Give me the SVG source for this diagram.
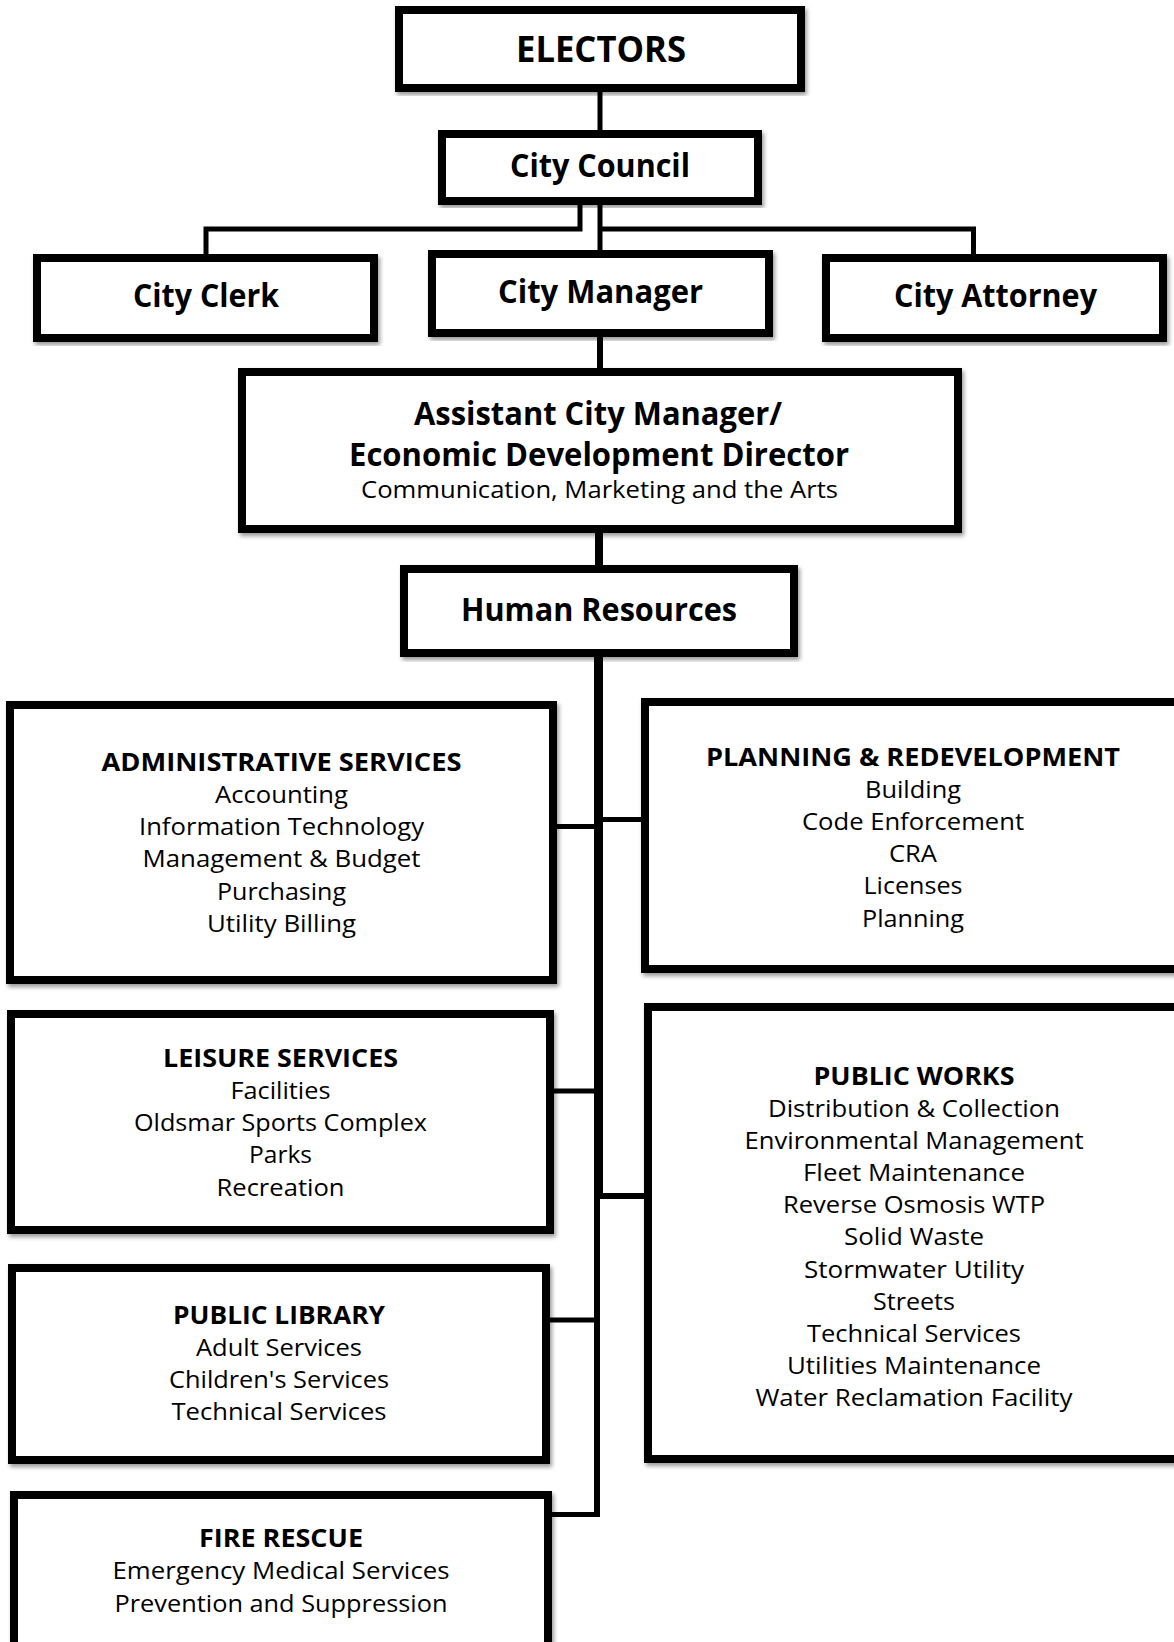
<svg xmlns="http://www.w3.org/2000/svg" width="1174" height="1642" viewBox="0 0 1174 1642">
<defs>
<filter id="sh" x="-5%" y="-5%" width="115%" height="115%">
<feDropShadow dx="2" dy="3" stdDeviation="2" flood-color="#000" flood-opacity="0.4"/>
</filter>
<style>
.box{fill:#fff;stroke:#000;stroke-width:8;filter:url(#sh)}
.ln{fill:none;stroke:#000;stroke-width:5}
text{font-family:"Open Sans","Liberation Sans",sans-serif;fill:#000;text-anchor:middle}
.t1{font-size:36px;font-weight:700}
.t2{font-size:31.5px;font-weight:700}
.t3{font-size:23px}
.h{font-size:25px;font-weight:700}
.b{font-size:24.5px}
</style>
</defs>
<rect width="1174" height="1642" fill="#fff"/>
<g id="connectors">
<line class="ln" x1="600" y1="90" x2="600" y2="134"/>
<line class="ln" x1="600" y1="201" x2="600" y2="254"/>
<path class="ln" d="M580 201 V229 H206 V258"/>
<path class="ln" d="M600 229 H973.5 V258"/>
<line class="ln" x1="600" y1="333" x2="600" y2="372" style="stroke-width:6"/>
<line class="ln" x1="599" y1="529" x2="599" y2="569" style="stroke-width:8"/>
<line class="ln" x1="598.5" y1="653" x2="598.5" y2="1199" style="stroke-width:9"/>
<line class="ln" x1="597" y1="1196" x2="597" y2="1517" style="stroke-width:6"/>
<line class="ln" x1="553" y1="826.5" x2="597" y2="826.5"/>
<line class="ln" x1="600" y1="819.5" x2="645" y2="819.5"/>
<line class="ln" x1="550" y1="1091" x2="597" y2="1091"/>
<line class="ln" x1="600" y1="1196" x2="648" y2="1196" style="stroke-width:6"/>
<line class="ln" x1="546" y1="1320" x2="597" y2="1320"/>
<path class="ln" d="M548 1514.5 H597 V1510"/>
</g>
<g id="electors">
<rect class="box" x="399" y="10" width="402" height="78"/>
<text class="t1" x="601" y="62" textLength="170" lengthAdjust="spacingAndGlyphs">ELECTORS</text>
</g>
<g id="city-council">
<rect class="box" x="442" y="134" width="316" height="67"/>
<text class="t2" x="600" y="177" textLength="180" lengthAdjust="spacingAndGlyphs">City Council</text>
</g>
<g id="city-clerk">
<rect class="box" x="37" y="258" width="337" height="80"/>
<text class="t2" x="206" y="307" textLength="146" lengthAdjust="spacingAndGlyphs">City Clerk</text>
</g>
<g id="city-manager">
<rect class="box" x="432" y="254" width="337" height="79"/>
<text class="t2" x="600.5" y="303" textLength="205" lengthAdjust="spacingAndGlyphs">City Manager</text>
</g>
<g id="city-attorney">
<rect class="box" x="826" y="258" width="337" height="80"/>
<text class="t2" x="995.5" y="307" textLength="203" lengthAdjust="spacingAndGlyphs">City Attorney</text>
</g>
<g id="assistant-city-manager">
<rect class="box" x="242" y="372" width="716" height="157"/>
<text class="t2" x="598" y="425" textLength="368" lengthAdjust="spacingAndGlyphs">Assistant City Manager/</text>
<text class="t2" x="599" y="466" textLength="500" lengthAdjust="spacingAndGlyphs">Economic Development Director</text>
<text class="t3" x="599.5" y="498" textLength="477" lengthAdjust="spacingAndGlyphs">Communication, Marketing and the Arts</text>
</g>
<g id="human-resources">
<rect class="box" x="404" y="569" width="390" height="84"/>
<text class="t2" x="599" y="621" textLength="276" lengthAdjust="spacingAndGlyphs">Human Resources</text>
</g>
<g id="administrative-services">
<rect class="box" x="10" y="705" width="543" height="275"/>
<text class="h" x="281.5" y="771" textLength="360" lengthAdjust="spacingAndGlyphs">ADMINISTRATIVE SERVICES</text>
<text class="b" x="281.5" y="803" textLength="133" lengthAdjust="spacingAndGlyphs">Accounting</text>
<text class="b" x="281.5" y="835" textLength="285" lengthAdjust="spacingAndGlyphs">Information Technology</text>
<text class="b" x="281.5" y="867" textLength="278" lengthAdjust="spacingAndGlyphs">Management &amp; Budget</text>
<text class="b" x="281.5" y="900" textLength="129" lengthAdjust="spacingAndGlyphs">Purchasing</text>
<text class="b" x="281.5" y="932" textLength="149" lengthAdjust="spacingAndGlyphs">Utility Billing</text>
</g>
<g id="planning-redevelopment">
<rect class="box" x="645" y="702" width="536" height="267"/>
<text class="h" x="913" y="766" textLength="414" lengthAdjust="spacingAndGlyphs">PLANNING &amp; REDEVELOPMENT</text>
<text class="b" x="913" y="798" textLength="96" lengthAdjust="spacingAndGlyphs">Building</text>
<text class="b" x="913" y="830" textLength="222" lengthAdjust="spacingAndGlyphs">Code Enforcement</text>
<text class="b" x="913" y="862" textLength="48" lengthAdjust="spacingAndGlyphs">CRA</text>
<text class="b" x="913" y="894" textLength="99" lengthAdjust="spacingAndGlyphs">Licenses</text>
<text class="b" x="913" y="927" textLength="102" lengthAdjust="spacingAndGlyphs">Planning</text>
</g>
<g id="leisure-services">
<rect class="box" x="11" y="1014" width="539" height="216"/>
<text class="h" x="280.5" y="1067" textLength="235" lengthAdjust="spacingAndGlyphs">LEISURE SERVICES</text>
<text class="b" x="280.5" y="1099" textLength="100" lengthAdjust="spacingAndGlyphs">Facilities</text>
<text class="b" x="280.5" y="1131" textLength="293" lengthAdjust="spacingAndGlyphs">Oldsmar Sports Complex</text>
<text class="b" x="280.5" y="1163" textLength="63" lengthAdjust="spacingAndGlyphs">Parks</text>
<text class="b" x="280.5" y="1196" textLength="128" lengthAdjust="spacingAndGlyphs">Recreation</text>
</g>
<g id="public-works">
<rect class="box" x="648" y="1007" width="530" height="452"/>
<text class="h" x="914" y="1085" textLength="201" lengthAdjust="spacingAndGlyphs">PUBLIC WORKS</text>
<text class="b" x="914" y="1117" textLength="292" lengthAdjust="spacingAndGlyphs">Distribution &amp; Collection</text>
<text class="b" x="914" y="1149" textLength="339" lengthAdjust="spacingAndGlyphs">Environmental Management</text>
<text class="b" x="914" y="1181" textLength="222" lengthAdjust="spacingAndGlyphs">Fleet Maintenance</text>
<text class="b" x="914" y="1213" textLength="262" lengthAdjust="spacingAndGlyphs">Reverse Osmosis WTP</text>
<text class="b" x="914" y="1245" textLength="140" lengthAdjust="spacingAndGlyphs">Solid Waste</text>
<text class="b" x="914" y="1278" textLength="220" lengthAdjust="spacingAndGlyphs">Stormwater Utility</text>
<text class="b" x="914" y="1310" textLength="82" lengthAdjust="spacingAndGlyphs">Streets</text>
<text class="b" x="914" y="1342" textLength="214" lengthAdjust="spacingAndGlyphs">Technical Services</text>
<text class="b" x="914" y="1374" textLength="254" lengthAdjust="spacingAndGlyphs">Utilities Maintenance</text>
<text class="b" x="914" y="1406" textLength="317" lengthAdjust="spacingAndGlyphs">Water Reclamation Facility</text>
</g>
<g id="public-library">
<rect class="box" x="12" y="1268" width="534" height="192"/>
<text class="h" x="279" y="1324" textLength="212" lengthAdjust="spacingAndGlyphs">PUBLIC LIBRARY</text>
<text class="b" x="279" y="1356" textLength="166" lengthAdjust="spacingAndGlyphs">Adult Services</text>
<text class="b" x="279" y="1388" textLength="220" lengthAdjust="spacingAndGlyphs">Children's Services</text>
<text class="b" x="279" y="1420" textLength="215" lengthAdjust="spacingAndGlyphs">Technical Services</text>
</g>
<g id="fire-rescue">
<rect class="box" x="14" y="1495" width="534" height="160"/>
<text class="h" x="281" y="1547" textLength="164" lengthAdjust="spacingAndGlyphs">FIRE RESCUE</text>
<text class="b" x="281" y="1579" textLength="337" lengthAdjust="spacingAndGlyphs">Emergency Medical Services</text>
<text class="b" x="281" y="1612" textLength="333" lengthAdjust="spacingAndGlyphs">Prevention and Suppression</text>
</g>
</svg>
